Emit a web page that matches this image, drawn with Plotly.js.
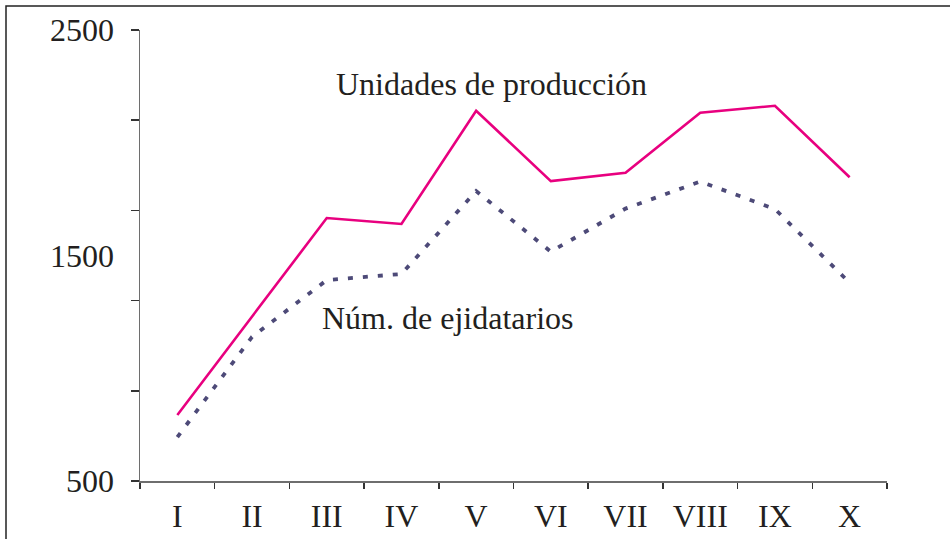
<!DOCTYPE html>
<html>
<head>
<meta charset="utf-8">
<script src="https://cdn.plot.ly/plotly-3.0.1.min.js"></script>
<style>
html,body{margin:0;padding:0;background:#fff;}
#chart{width:950px;height:539px;}
</style>
</head>
<body>
<div id="chart"></div>
<script>
const categories = ["I","II","III","IV","V","VI","VII","VIII","IX","X"];
const unidadesProduccion = [793, 1230, 1666, 1640, 2142, 1830, 1867, 2133, 2164, 1847];
const numEjidatarios = [695, 1139, 1391, 1418, 1786, 1517, 1708, 1828, 1706, 1379];
const yLabelVals = [500, 1500, 2500];
const yTickVals = [500, 900, 1300, 1700, 2100, 2500];
const seriesNames = ["Unidades de producción", "Núm. de ejidatarios"];

const FONT = "Liberation Serif, Times New Roman, serif";
const TXT = "#231f20";
const AX = "#6e6e6e";

const traces = [
  {x: categories, y: unidadesProduccion, type: "scatter", mode: "lines",
   name: seriesNames[0], line: {color: "#e8007f", width: 2.6}},
  {x: categories, y: numEjidatarios, type: "scatter", mode: "lines",
   name: seriesNames[1], line: {color: "#4d4a78", width: 3.8, dash: "5px,10px"}}
];

const layout = {
  width: 950, height: 539,
  margin: {l: 140, r: 63, t: 30, b: 58},
  paper_bgcolor: "#fff", plot_bgcolor: "#fff",
  showlegend: false,
  font: {family: FONT, color: TXT, size: 32},
  xaxis: {
    type: "category", range: [-0.5, 9.5],
    showline: true, linecolor: AX, linewidth: 1.5,
    ticks: "outside", tickson: "boundaries", ticklen: 6, tickwidth: 1.5, tickcolor: "#333",
    showgrid: false, zeroline: false,
    tickfont: {family: FONT, size: 32, color: TXT},
    ticklabelstandoff: 6
  },
  yaxis: {
    range: [500, 2500],
    showline: true, linecolor: AX, linewidth: 1.5,
    tickvals: yLabelVals, ticktext: yLabelVals.map(String),
    ticks: "", showgrid: false, zeroline: false,
    tickfont: {family: FONT, size: 32, color: TXT},
    ticklabelstandoff: 18
  },
  yaxis2: {
    range: [500, 2500], overlaying: "y", side: "left",
    showline: false, tickvals: yTickVals, showticklabels: false,
    ticks: "outside", ticklen: 8, tickwidth: 1.5, tickcolor: "#333",
    showgrid: false, zeroline: false
  },
  shapes: [
    {type: "rect", xref: "paper", yref: "paper",
     x0: (6 - 140) / 747, x1: (980 - 140) / 747,
     y0: (481 - 580) / 451, y1: (481 - 6) / 451,
     line: {color: "#222", width: 1.5}, layer: "below"}
  ],
  annotations: [
    {text: seriesNames[0], xref: "paper", yref: "paper",
     x: (334 - 140) / 747, y: (481 - 84) / 451, xanchor: "left", yanchor: "middle",
     showarrow: false, font: {family: FONT, size: 32, color: TXT}},
    {text: seriesNames[1], xref: "paper", yref: "paper",
     x: (320 - 140) / 747, y: (481 - 318) / 451, xanchor: "left", yanchor: "middle",
     showarrow: false, font: {family: FONT, size: 32, color: TXT}}
  ]
};

traces.push({x: [categories[0]], y: [null], yaxis: "y2", type: "scatter", mode: "lines", hoverinfo: "skip", showlegend: false});

Plotly.newPlot("chart", traces, layout, {displayModeBar: false, staticPlot: true});
</script>
</body>
</html>
